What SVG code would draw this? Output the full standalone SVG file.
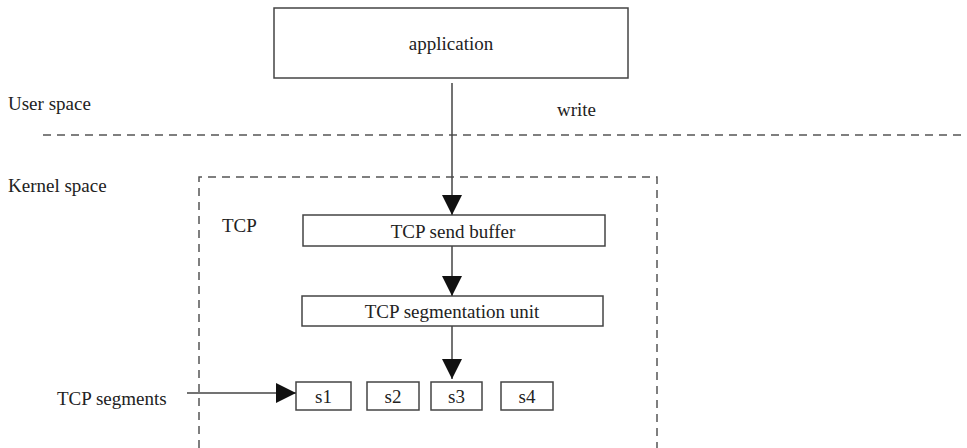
<svg xmlns="http://www.w3.org/2000/svg" width="967" height="448" viewBox="0 0 967 448">
<style>
.t{font-family:'Liberation Serif','DejaVu Serif','Times New Roman',serif;font-size:19px;fill:#222}
.box{fill:#fff;stroke:#444;stroke-width:1.5}
.ln{stroke:#444;stroke-width:1.5;fill:none}
.dash{stroke:#555;stroke-width:1.5;fill:none;stroke-dasharray:8 6}
.c{text-anchor:middle}
</style>
<defs>
<marker id="ah" viewBox="0 0 20 20" refX="20" refY="10" markerWidth="20" markerHeight="20" markerUnits="userSpaceOnUse" orient="auto">
<path d="M0,0 L20,10 L0,20 Z" fill="#111"/>
</marker>
</defs>
<rect width="967" height="448" fill="#fff"/>
<g id="regions" font-family="Liberation Serif, serif">
<line class="dash" x1="43" y1="135" x2="967" y2="135"/>
<path class="dash" d="M199,448 V177 H657 V448"/>
<text class="t" x="8" y="110">User space</text>
<text class="t" x="8" y="192">Kernel space</text>
<text class="t" x="222" y="232">TCP</text>
<text class="t" x="557" y="116">write</text>
<text class="t" x="57" y="405">TCP segments</text>
</g>
<g id="application"><rect class="box" x="274" y="8" width="354" height="70"/><text class="t c" x="451" y="50">application</text></g>
<g id="sendbuffer"><rect class="box" x="303" y="215" width="302" height="31"/><text class="t c" x="453" y="238">TCP send buffer</text></g>
<g id="segunit"><rect class="box" x="302" y="296" width="301" height="30"/><text class="t c" x="452" y="318">TCP segmentation unit</text></g>
<g id="s1"><rect class="box" x="296" y="382" width="55" height="28"/><text class="t c" x="323.5" y="403">s1</text></g>
<g id="s2"><rect class="box" x="367" y="382" width="52" height="28"/><text class="t c" x="393" y="403">s2</text></g>
<g id="s3"><rect class="box" x="431" y="382" width="51" height="28"/><text class="t c" x="456.5" y="403">s3</text></g>
<g id="s4"><rect class="box" x="501" y="382" width="52" height="28"/><text class="t c" x="527" y="403">s4</text></g>
<g id="connectors">
<line class="ln" x1="452" y1="83" x2="452" y2="215" marker-end="url(#ah)"/>
<line class="ln" x1="452" y1="246" x2="452" y2="296" marker-end="url(#ah)"/>
<line class="ln" x1="452" y1="326" x2="452" y2="379" marker-end="url(#ah)"/>
<line class="ln" x1="187" y1="393" x2="296" y2="393" marker-end="url(#ah)"/>
</g>
</svg>
